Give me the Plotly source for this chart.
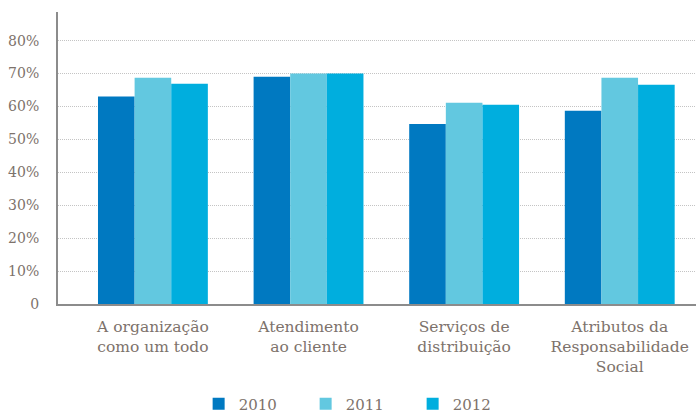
import plotly.graph_objects as go

categories = [
    "A organização<br>como um todo",
    "Atendimento<br>ao cliente",
    "Serviços de<br>distribuição",
    "Atributos da<br>Responsabilidade<br>Social",
]
years = ["2010", "2011", "2012"]
values_2010 = [63, 69, 54.7, 58.7]
values_2011 = [68.7, 70, 61.1, 68.7]
values_2012 = [66.9, 70, 60.5, 66.6]
colors = ["#0079C1", "#62C8E0", "#00AEDE"]
tick_vals = [0, 10, 20, 30, 40, 50, 60, 70, 80]
tick_text = ["0", "10%", "20%", "30%", "40%", "50%", "60%", "70%", "80%"]

text_color = "#7d726b"
label_font = "DejaVu Serif"

fig = go.Figure()
for name, vals, col in zip(years, [values_2010, values_2011, values_2012], colors):
    fig.add_trace(go.Bar(
        x=list(range(len(categories))), y=vals, name=name,
        marker=dict(color=col, line=dict(width=0)),
    ))

fig.update_layout(
    width=696, height=414,
    margin=dict(l=58, r=0, t=12, b=110),
    plot_bgcolor="white", paper_bgcolor="white",
    barmode="group", bargap=0.294, bargroupgap=0,
    font=dict(family=label_font, color=text_color, size=15),
    showlegend=True,
    legend=dict(
        orientation="h", yref="container", y=0.024, yanchor="middle",
        xref="container", x=0.516, xanchor="center",
        font=dict(size=15, color=text_color, family=label_font),
        itemwidth=30, traceorder="normal", entrywidth=62,
    ),
    xaxis=dict(
        range=[-0.61, 3.49],
        tickvals=list(range(len(categories))), ticktext=categories,
        showline=True, linecolor="#8c8c8c", linewidth=2,
        ticks="", showgrid=False, zeroline=False, ticklabelstandoff=7,
        tickfont=dict(size=15.5, color=text_color, family=label_font),
    ),
    yaxis=dict(
        range=[0, 88.7],
        tickvals=tick_vals, ticktext=tick_text,
        showline=True, linecolor="#8c8c8c", linewidth=2,
        showgrid=True, gridcolor="#c4c4c4", gridwidth=1, griddash="1px,1px",
        zeroline=False, ticks="", ticklabelstandoff=14,
        tickfont=dict(size=14, color=text_color, family=label_font),
    ),
)

fig.write_html("out.html")
